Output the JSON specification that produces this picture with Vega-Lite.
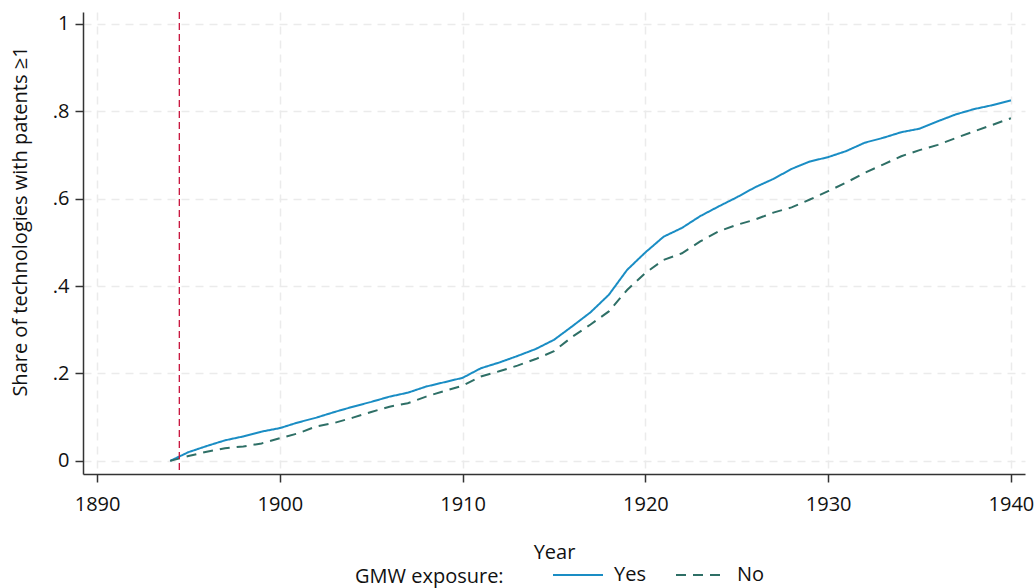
{
  "$schema": "https://vega.github.io/schema/vega-lite/v6.json",
  "width": 942,
  "height": 462,
  "autosize": {"type": "none"},
  "padding": {"left": 83, "top": 12, "right": 11, "bottom": 114},
  "background": "white",
  "config": {
    "font": "Open Sans",
    "view": {"stroke": null},
    "axis": {
      "labelFont": "Open Sans",
      "titleFont": "Open Sans",
      "labelFontSize": 20,
      "titleFontSize": 20,
      "labelColor": "#111111",
      "titleColor": "#111111",
      "titleFontWeight": "normal",
      "domainColor": "#333333",
      "domainWidth": 1.5,
      "tickColor": "#333333",
      "tickWidth": 1.5,
      "tickSize": 8,
      "gridColor": "#ebebeb",
      "gridWidth": 1.5,
      "gridDash": [8, 6]
    },
    "legend": {
      "labelFont": "Open Sans",
      "titleFont": "Open Sans",
      "labelFontSize": 20,
      "titleFontSize": 20,
      "titleFontWeight": "normal",
      "labelColor": "#111111",
      "titleColor": "#111111"
    }
  },
  "datasets": {
    "shares": [
      {"year": 1894, "group": "Yes", "share": 0.0},
      {"year": 1895, "group": "Yes", "share": 0.02},
      {"year": 1896, "group": "Yes", "share": 0.034},
      {"year": 1897, "group": "Yes", "share": 0.047},
      {"year": 1898, "group": "Yes", "share": 0.056},
      {"year": 1899, "group": "Yes", "share": 0.067},
      {"year": 1900, "group": "Yes", "share": 0.075},
      {"year": 1901, "group": "Yes", "share": 0.088},
      {"year": 1902, "group": "Yes", "share": 0.099},
      {"year": 1903, "group": "Yes", "share": 0.112},
      {"year": 1904, "group": "Yes", "share": 0.124},
      {"year": 1905, "group": "Yes", "share": 0.135},
      {"year": 1906, "group": "Yes", "share": 0.147},
      {"year": 1907, "group": "Yes", "share": 0.156},
      {"year": 1908, "group": "Yes", "share": 0.17},
      {"year": 1909, "group": "Yes", "share": 0.18},
      {"year": 1910, "group": "Yes", "share": 0.19},
      {"year": 1911, "group": "Yes", "share": 0.212},
      {"year": 1912, "group": "Yes", "share": 0.225},
      {"year": 1913, "group": "Yes", "share": 0.24},
      {"year": 1914, "group": "Yes", "share": 0.256},
      {"year": 1915, "group": "Yes", "share": 0.277},
      {"year": 1916, "group": "Yes", "share": 0.308},
      {"year": 1917, "group": "Yes", "share": 0.34},
      {"year": 1918, "group": "Yes", "share": 0.38},
      {"year": 1919, "group": "Yes", "share": 0.437},
      {"year": 1920, "group": "Yes", "share": 0.477},
      {"year": 1921, "group": "Yes", "share": 0.513},
      {"year": 1922, "group": "Yes", "share": 0.533},
      {"year": 1923, "group": "Yes", "share": 0.56},
      {"year": 1924, "group": "Yes", "share": 0.582},
      {"year": 1925, "group": "Yes", "share": 0.603},
      {"year": 1926, "group": "Yes", "share": 0.626},
      {"year": 1927, "group": "Yes", "share": 0.645},
      {"year": 1928, "group": "Yes", "share": 0.668},
      {"year": 1929, "group": "Yes", "share": 0.685},
      {"year": 1930, "group": "Yes", "share": 0.695},
      {"year": 1931, "group": "Yes", "share": 0.709},
      {"year": 1932, "group": "Yes", "share": 0.728},
      {"year": 1933, "group": "Yes", "share": 0.739},
      {"year": 1934, "group": "Yes", "share": 0.752},
      {"year": 1935, "group": "Yes", "share": 0.76},
      {"year": 1936, "group": "Yes", "share": 0.777},
      {"year": 1937, "group": "Yes", "share": 0.793},
      {"year": 1938, "group": "Yes", "share": 0.805},
      {"year": 1939, "group": "Yes", "share": 0.814},
      {"year": 1940, "group": "Yes", "share": 0.825},
      {"year": 1894, "group": "No", "share": 0.0},
      {"year": 1895, "group": "No", "share": 0.011},
      {"year": 1896, "group": "No", "share": 0.021},
      {"year": 1897, "group": "No", "share": 0.029},
      {"year": 1898, "group": "No", "share": 0.033},
      {"year": 1899, "group": "No", "share": 0.04},
      {"year": 1900, "group": "No", "share": 0.052},
      {"year": 1901, "group": "No", "share": 0.063},
      {"year": 1902, "group": "No", "share": 0.079},
      {"year": 1903, "group": "No", "share": 0.087},
      {"year": 1904, "group": "No", "share": 0.099},
      {"year": 1905, "group": "No", "share": 0.112},
      {"year": 1906, "group": "No", "share": 0.124},
      {"year": 1907, "group": "No", "share": 0.132},
      {"year": 1908, "group": "No", "share": 0.147},
      {"year": 1909, "group": "No", "share": 0.16},
      {"year": 1910, "group": "No", "share": 0.172},
      {"year": 1911, "group": "No", "share": 0.193},
      {"year": 1912, "group": "No", "share": 0.205},
      {"year": 1913, "group": "No", "share": 0.218},
      {"year": 1914, "group": "No", "share": 0.233},
      {"year": 1915, "group": "No", "share": 0.251},
      {"year": 1916, "group": "No", "share": 0.284},
      {"year": 1917, "group": "No", "share": 0.312},
      {"year": 1918, "group": "No", "share": 0.342},
      {"year": 1919, "group": "No", "share": 0.391},
      {"year": 1920, "group": "No", "share": 0.43},
      {"year": 1921, "group": "No", "share": 0.46},
      {"year": 1922, "group": "No", "share": 0.475},
      {"year": 1923, "group": "No", "share": 0.502},
      {"year": 1924, "group": "No", "share": 0.525},
      {"year": 1925, "group": "No", "share": 0.54},
      {"year": 1926, "group": "No", "share": 0.552},
      {"year": 1927, "group": "No", "share": 0.568},
      {"year": 1928, "group": "No", "share": 0.58},
      {"year": 1929, "group": "No", "share": 0.598},
      {"year": 1930, "group": "No", "share": 0.617},
      {"year": 1931, "group": "No", "share": 0.637},
      {"year": 1932, "group": "No", "share": 0.659},
      {"year": 1933, "group": "No", "share": 0.678},
      {"year": 1934, "group": "No", "share": 0.697},
      {"year": 1935, "group": "No", "share": 0.711},
      {"year": 1936, "group": "No", "share": 0.723},
      {"year": 1937, "group": "No", "share": 0.739},
      {"year": 1938, "group": "No", "share": 0.754},
      {"year": 1939, "group": "No", "share": 0.769},
      {"year": 1940, "group": "No", "share": 0.784}
    ],
    "event": [{"year": 1894.5}]
  },
  "layer": [
    {
      "data": {"name": "shares"},
      "mark": {"type": "line", "strokeWidth": 2, "interpolate": "linear"},
      "encoding": {
        "x": {
          "field": "year",
          "type": "quantitative",
          "scale": {"domain": [1889.23, 1940.77], "nice": false, "zero": false},
          "axis": {
            "title": "Year",
            "values": [1890, 1900, 1910, 1920, 1930, 1940],
            "format": "d",
            "labelPadding": 12,
            "titleY": 78,
            "titleBaseline": "middle",
            "grid": true
          }
        },
        "y": {
          "field": "share",
          "type": "quantitative",
          "scale": {"domain": [-0.03, 1.027], "nice": false, "zero": false},
          "axis": {
            "title": "Share of technologies with patents ≥1",
            "values": [0, 0.2, 0.4, 0.6, 0.8, 1],
            "labelExpr": "datum.value == 0 ? '0' : datum.value == 1 ? '1' : replace(format(datum.value, '.1f'), '0.', '.')",
            "labelPadding": 6,
            "titleX": -63,
            "titleY": 209,
            "titleBaseline": "middle",
            "grid": true
          }
        },
        "color": {
          "field": "group",
          "type": "nominal",
          "scale": {"domain": ["Yes", "No"], "range": ["#1a8dc4", "#2e6f66"]},
          "legend": {
            "title": "GMW exposure:",
            "orient": "none",
            "legendX": 272,
            "legendY": 537,
            "direction": "horizontal",
            "titleOrient": "left",
            "titleAnchor": "middle",
            "titleBaseline": "top",
            "titlePadding": 48,
            "symbolType": "stroke",
            "symbolSize": 2500,
            "symbolStrokeWidth": 2,
            "labelOffset": 10,
            "columnPadding": 26
          }
        },
        "strokeDash": {
          "field": "group",
          "type": "nominal",
          "scale": {"domain": ["Yes", "No"], "range": [[1, 0], [10, 7]]},
          "legend": null
        }
      }
    },
    {
      "data": {"name": "event"},
      "mark": {"type": "rule", "color": "#c8143c", "strokeWidth": 1.3, "strokeDash": [7, 4]},
      "encoding": {
        "x": {"field": "year", "type": "quantitative"}
      }
    }
  ]
}
